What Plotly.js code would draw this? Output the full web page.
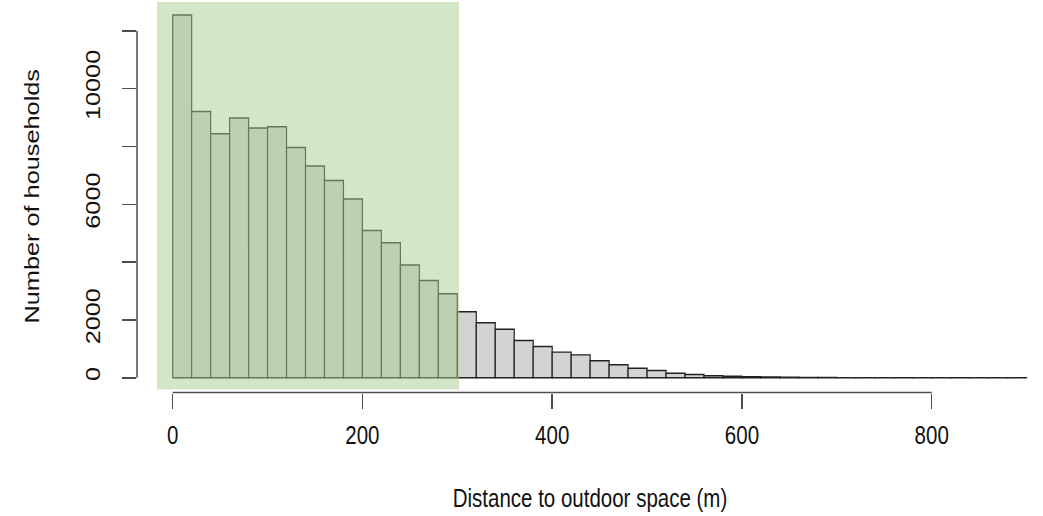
<!DOCTYPE html>
<html>
<head>
<meta charset="utf-8">
<script src="https://cdn.plot.ly/plotly-3.0.1.min.js"></script>
<style>
html,body{margin:0;padding:0;background:#fff;overflow:hidden;width:1043px;height:516px;}
/* the reference picture is stretched vertically relative to its text, so the plot is drawn
   at a reduced height and stretched to the 516 px window */
#chart{width:1043px;height:418px;transform:scale(1,1.23445);transform-origin:0 0;}
</style>
</head>
<body>
<div id="chart"></div>
<script>
// Histogram: distance to outdoor space (m), bins of 20 m
const binWidth = 20;
const binLeft = [0,20,40,60,80,100,120,140,160,180,200,220,240,260,280,
                 300,320,340,360,380,400,420,440,460,480,500,520,540,560,580,
                 600,620,640,660,680,700,720,740,760,780,800,820,840,860,880];
const households = [12550,9210,8440,8990,8640,8680,7965,7325,6825,6185,5100,4675,3905,3370,2910,
                    2290,1910,1685,1295,1085,890,795,590,450,335,256,162,117,73,55,
                    40,28,20,14,10,3,2,2,1,1,1,1,1,1,1];
const xTicks = [0,200,400,600,800];
const xTickLabels = ["0","200","400","600","800"];
const yTicks = [0,2000,4000,6000,8000,10000,12000];
const yTickLabels = ["0","2000","","6000","","10000",""];   // R drops labels that would overlap
const highlightRange = [-16.5, 301.8];   // green band (m)
const xTitle = "Distance to outdoor space (m)";
const yTitle = "Number of households";

const axisCol = "#4d4d4d";
const font = {family: "Liberation Sans, Arial, sans-serif", size: 20.5, color: "#111"};

const trace = {
  type: "bar",
  x: binLeft,
  y: households,
  width: binWidth,
  offset: 0,
  marker: {color: "#D3D3D3", line: {color: "#222", width: 1.2}},
  hoverinfo: "x+y"
};

const layout = {
  width: 1043, height: 418,
  margin: {l: 137, r: 0, t: 0, b: 100},
  paper_bgcolor: "#fff", plot_bgcolor: "#fff",
  font: font,
  showlegend: false,
  bargap: 0,
  xaxis: {
    range: [-37.6, 917.3],
    tickvals: xTicks, ticktext: xTickLabels,
    ticks: "outside", ticklen: 12, tickwidth: 1.5, tickcolor: axisCol,
    showline: false, showgrid: false, zeroline: false,
    ticklabelstandoff: 4,
    tickfont: font,
    title: {text: xTitle, font: font, standoff: 33.5}
  },
  yaxis: {
    range: [-508, 13067],
    tickvals: yTicks, ticktext: yTickLabels,
    ticks: "outside", ticklen: 14, tickwidth: 1.2, tickcolor: axisCol,
    tickangle: -90,
    showline: false, showgrid: false, zeroline: false,
    ticklabelstandoff: 14,
    tickfont: font,
    title: {text: yTitle, font: font, standoff: 35}
  },
  shapes: [
    {type: "rect", layer: "above", xref: "x", yref: "y",
     x0: highlightRange[0], x1: highlightRange[1], y0: -400, y1: 13000,
     fillcolor: "rgba(168,208,145,0.5)", line: {width: 0}},
    {type: "line", xref: "x", yref: "paper", x0: xTicks[0], x1: xTicks[xTicks.length-1], y0: 0, y1: 0,
     line: {color: axisCol, width: 1.2}},
    {type: "line", xref: "paper", yref: "y", x0: 0, x1: 0, y0: yTicks[0], y1: yTicks[yTicks.length-1],
     line: {color: axisCol, width: 1.5}}
  ]
};

Plotly.newPlot("chart", [trace], layout, {displayModeBar: false, staticPlot: true});
</script>
</body>
</html>
